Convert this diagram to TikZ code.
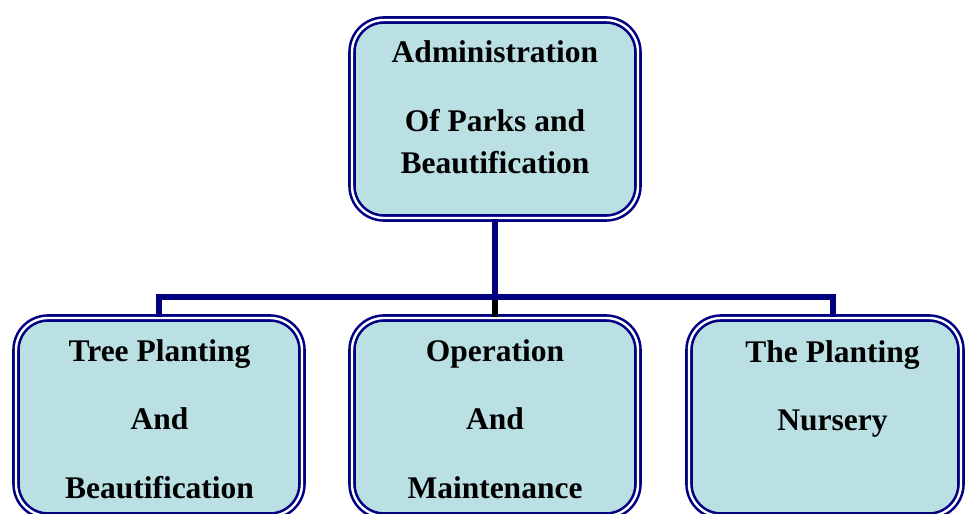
\documentclass[tikz,border=0pt]{standalone}
\usepackage{fontspec}
\setmainfont{Liberation Serif}
\definecolor{boxfill}{RGB}{187,224,228}
\definecolor{navyline}{RGB}{0,0,128}
\begin{document}
\begin{tikzpicture}[x=1pt,y=-1pt,
  unitbox/.style={draw=navyline, double=white, line width=2.6pt, double distance=2.4pt,
    fill=boxfill, rounded corners=32pt, rectangle, inner sep=0pt},
  txt/.style={anchor=base, inner sep=0pt, font=\fontsize{31.5}{36}\selectfont\bfseries},
  conn/.style={draw=navyline, line width=6pt}]
\useasboundingbox (0,0) rectangle (967,514);
% boxes
\begin{scope}
\clip (0,0) rectangle (967,514);
\node[unitbox, minimum width=286pt, minimum height=198pt] (top) at (495,119) {};
\node[unitbox, minimum width=286pt, minimum height=198pt] (b1) at (159,417) {};
\node[unitbox, minimum width=286pt, minimum height=198pt] (b2) at (495,417) {};
\node[unitbox, minimum width=272pt, minimum height=198pt] (b3) at (825,417) {};
\end{scope}
% connectors
\coordinate (j) at (495,297);
\coordinate (jl) at (158.5,297);
\coordinate (jr) at (832.5,297);
\draw[conn] (top.south) -- (j);
\draw[conn, line cap=rect] (jl) -- (jr);
\draw[conn] (jl) -- (jl |- b1.north);
\draw[conn] (jr) -- (jr |- b3.north);
\draw[conn, draw=black] (j) ++(0,3) coordinate (jm) (jm) -- (jm |- b2.north);
% texts
\node[txt] (t1) at (495,62) {Administration};
\node[txt] (t2) at (495,131) {Of Parks and};
\node[txt] (t3) at (495,173) {Beautification};
\node[txt] (a1) at (159.5,361) {Tree Planting};
\node[txt] (a2) at (159.5,429) {And};
\node[txt] (a3) at (159.5,498) {Beautification};
\node[txt] (m1) at (495,361) {Operation};
\node[txt] (m2) at (495,429) {And};
\node[txt] (m3) at (495,498) {Maintenance};
\node[txt] (n1) at (832.5,362) {The Planting};
\node[txt] (n2) at (832.5,430) {Nursery};
\end{tikzpicture}
\end{document}
